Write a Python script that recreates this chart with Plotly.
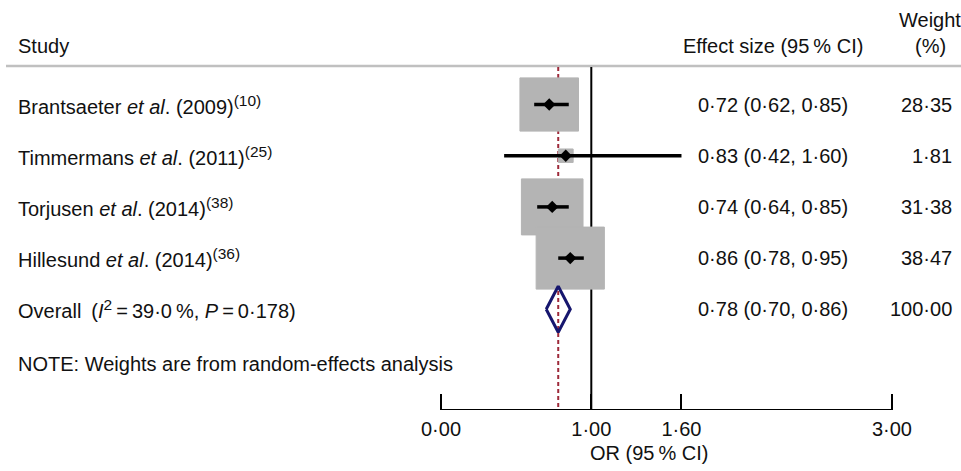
import plotly.graph_objects as go

# ---------------- data ----------------
SUP = '<sup><span style="font-size:15.5px">{}</span></sup>'
study_labels = [
    "Brantsaeter <i>et al</i>. (2009)" + SUP.format("(10)"),
    "Timmermans <i>et al</i>. (2011)" + SUP.format("(25)"),
    "Torjusen <i>et al</i>. (2014)" + SUP.format("(38)"),
    "Hillesund <i>et al</i>. (2014)" + SUP.format("(36)"),
]
es = [0.72, 0.83, 0.74, 0.86]
ci_lo = [0.62, 0.42, 0.64, 0.78]
ci_hi = [0.85, 1.60, 0.85, 0.95]
weights = [28.35, 1.81, 31.38, 38.47]

overall_label = ("Overall\u2002(<i>I</i>" + SUP.format("2") +
                 "\u2009=\u200939·0\u2009%, <i>P</i>\u2009=\u20090·178)")
overall_es = 0.78
overall_lo = 0.70
overall_hi = 0.86
overall_weight = 100.00

note_text = "NOTE: Weights are from random-effects analysis"
tick_vals = [0.0, 1.0, 1.6, 3.0]
x_title = "OR (95\u2009% CI)"

# ---------------- layout geometry ----------------
W, H = 961, 471
FONT = "Liberation Sans, Arial, Helvetica, sans-serif"
FS = 20
TXT = "#111111"

x_px0 = 441.0       # pixel of x = 0
x_ppu = 150.3       # pixels per unit
row0_px = 104.5     # pixel of first row
row_step = 51.2     # pixels per row
axis_px = 410.0     # pixel of the x axis line
header_px = 66.0

def fmt(v):
    return f"{v:.2f}".replace(".", "·")

def row_of(px):
    return 1 + (px - row0_px) / row_step

def py(px):
    return 1 - px / H

def pxp(px):
    return px / W

x_range = [-x_px0 / x_ppu, (W - x_px0) / x_ppu]
y_bot = row_of(axis_px)
y_top = row_of(0)
rows = list(range(1, len(es) + 1))
overall_row = len(es) + 1

fig = go.Figure()
shapes = []

# header rule
shapes.append(dict(type="line", xref="paper", yref="paper", x0=pxp(6), x1=1,
                   y0=py(header_px), y1=py(header_px),
                   line=dict(color="#c0c0c0", width=2.5), layer="below"))
# null line at 1
shapes.append(dict(type="line", xref="x", yref="y", x0=1, x1=1,
                   y0=row_of(header_px + 1), y1=y_bot,
                   line=dict(color="black", width=2), layer="below"))
# overall effect dotted line
shapes.append(dict(type="line", xref="x", yref="y", x0=overall_es, x1=overall_es,
                   y0=row_of(header_px + 1), y1=y_bot,
                   line=dict(color="#9e2a3a", width=2, dash="4px,3px"), layer="below"))
# weight boxes
kx = 11.0 / x_ppu / 2
ky = 10.0 / row_step / 2
for r, e, w in zip(rows, es, weights):
    s = w ** 0.5
    shapes.append(dict(type="rect", xref="x", yref="y",
                       x0=e - kx * s, x1=e + kx * s,
                       y0=r - ky * s, y1=r + ky * s,
                       fillcolor="#b4b4b4", line=dict(color="#b4b4b4", width=1),
                       layer="below"))
# axis line from first to last tick
shapes.append(dict(type="line", xref="x", yref="y", x0=min(tick_vals), x1=max(tick_vals),
                   y0=y_bot, y1=y_bot, line=dict(color="black", width=2), layer="above"))

# CI lines
for r, lo, hi in zip(rows, ci_lo, ci_hi):
    fig.add_trace(go.Scatter(x=[lo, hi], y=[r, r], mode="lines",
                             line=dict(color="black", width=3.5),
                             hoverinfo="skip", showlegend=False))
# point estimates
fig.add_trace(go.Scatter(x=es, y=rows, mode="markers",
                         marker=dict(symbol="diamond", size=9.5, color="black"),
                         hoverinfo="skip", showlegend=False))
# overall diamond
dh = 23.0 / row_step
fig.add_trace(go.Scatter(
    x=[overall_lo, overall_es, overall_hi, overall_es, overall_lo],
    y=[overall_row, overall_row - dh, overall_row, overall_row + dh, overall_row],
    mode="lines", line=dict(color="#16166e", width=3),
    hoverinfo="skip", showlegend=False))

annotations = []
def add_text(text, x, y, xanchor="left", xref="paper", yref="y", size=FS):
    annotations.append(dict(text=text, x=x, y=y, xref=xref, yref=yref,
                            xanchor=xanchor, yanchor="middle", showarrow=False,
                            font=dict(family=FONT, size=size, color=TXT)))

# headers
add_text("Study", pxp(16), py(46), yref="paper")
add_text("Effect size (95\u2009% CI)", pxp(772.5), py(46), xanchor="center", yref="paper")
add_text("Weight", pxp(930), py(20), xanchor="center", yref="paper")
add_text("(%)", pxp(930), py(46), xanchor="center", yref="paper")

# rows
for r, lab, e, lo, hi, w in zip(rows, study_labels, es, ci_lo, ci_hi, weights):
    add_text(lab, pxp(16), r)
    add_text(f"{fmt(e)} ({fmt(lo)}, {fmt(hi)})", pxp(772.5), r, xanchor="center")
    add_text(fmt(w), pxp(954), r, xanchor="right")
add_text(overall_label, pxp(16), overall_row)
add_text(f"{fmt(overall_es)} ({fmt(overall_lo)}, {fmt(overall_hi)})", pxp(772.5), overall_row,
         xanchor="center")
add_text(fmt(overall_weight), pxp(954), overall_row, xanchor="right")
add_text(note_text, pxp(16), row_of(364))

# x title
add_text(x_title, pxp(649), py(453), xanchor="center", yref="paper")

fig.update_layout(
    width=W, height=H,
    margin=dict(l=0, r=0, t=0, b=0, autoexpand=False),
    paper_bgcolor="white", plot_bgcolor="white",
    shapes=shapes, annotations=annotations,
    showlegend=False,
    xaxis=dict(range=x_range, domain=[0, 1], anchor="y",
               tickvals=tick_vals, ticktext=[fmt(v) for v in tick_vals],
               ticks="inside", ticklen=16, tickwidth=2, tickcolor="black",
               ticklabelstandoff=5,
               showline=False, showgrid=False, zeroline=False,
               tickfont=dict(family=FONT, size=FS, color=TXT)),
    yaxis=dict(range=[y_bot, y_top], domain=[1 - axis_px / H, 1],
               showticklabels=False, ticks="", showline=False,
               showgrid=False, zeroline=False),
)

fig.write_html("out.html", config={"displayModeBar": False},
               post_script="document.body.style.margin='0';document.body.style.overflow='hidden';")
